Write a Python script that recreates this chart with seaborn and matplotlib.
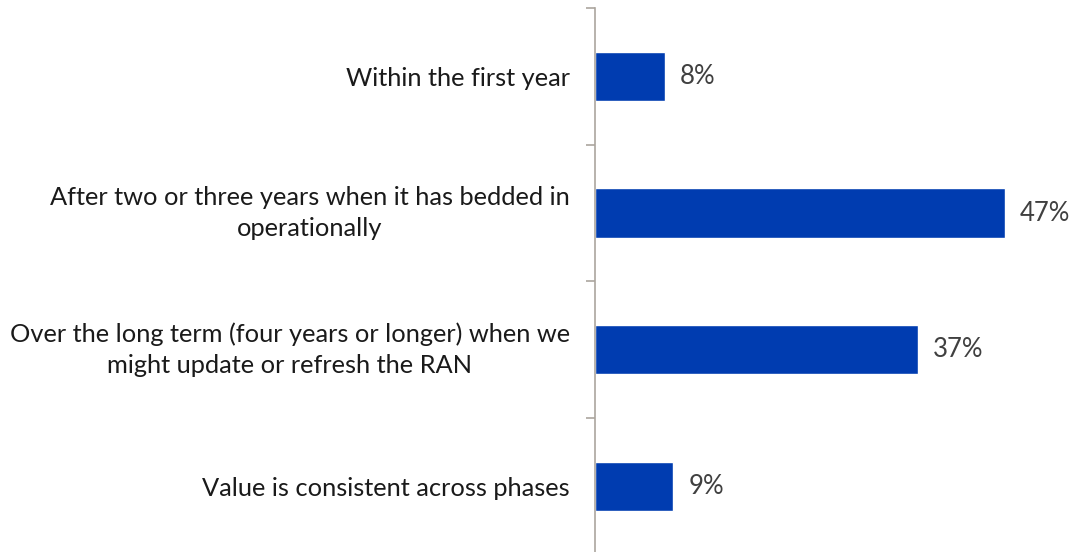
import matplotlib
matplotlib.use("Agg")
import matplotlib.pyplot as plt
import matplotlib.transforms as mtransforms
import seaborn as sns
import pandas as pd

categories = [
    "Within the first year",
    "After two or three years when it has bedded in\noperationally",
    "Over the long term (four years or longer) when we\nmight update or refresh the RAN",
    "Value is consistent across phases",
]
shares = [8, 47, 37, 9]
value_labels = ["8%", "47%", "37%", "9%"]

df = pd.DataFrame({"phase": categories, "share": shares})

sns.set_theme(style="white")
plt.rcParams["font.family"] = ["Lato", "DejaVu Sans"]

PX_PER_UNIT = 8.72

fig = plt.figure(figsize=(10.72, 5.52), dpi=100)
ax = fig.add_axes([595 / 1072, -2.7 / 552, 470 / 1072, 546.7 / 552])

sns.barplot(data=df, x="share", y="phase", orient="h", color="#003CB0",
            saturation=1, width=0.36, ax=ax)

ax.set_xlim(0, 470 / PX_PER_UNIT)
ax.set_ylim(3.5, -0.5)
ax.set_xlabel("")
ax.set_ylabel("")
ax.set_xticks([])

for s in ["top", "right", "bottom"]:
    ax.spines[s].set_visible(False)
ax.spines["left"].set_color("#ABA59E")
ax.spines["left"].set_linewidth(1.2)

ax.set_yticks([i - 0.5 for i in range(len(categories) + 1)], minor=True)
ax.tick_params(axis="y", which="minor", length=6.5, width=1.2, color="#ABA59E", left=True)
ax.tick_params(axis="y", which="major", length=0, pad=18, labelsize=18.3, labelcolor="#1a1a1a")
for lbl in ax.get_yticklabels():
    lbl.set_multialignment("center")
    lbl.set_linespacing(1.4)
    if "\n" in lbl.get_text():
        # nudge two-line labels up so they sit centred on their bar
        lbl.set_transform(lbl.get_transform() +
                          mtransforms.ScaledTranslation(0, 4 / 72, fig.dpi_scale_trans))

for i, (v, t) in enumerate(zip(shares, value_labels)):
    ax.text(v + 15 / PX_PER_UNIT, i, t, va="center", ha="left", fontsize=18.5, color="#404040")

fig.savefig("out.png", dpi=100)
